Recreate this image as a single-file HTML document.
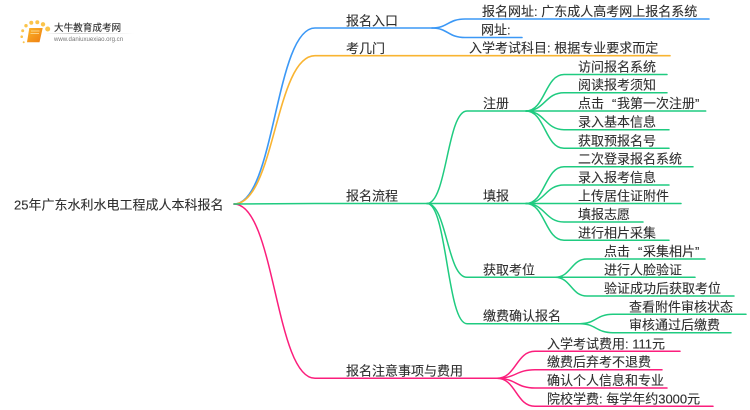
<!DOCTYPE html>
<html lang="zh">
<head>
<meta charset="utf-8">
<title>25年广东水利水电工程成人本科报名</title>
<style>
html,body{margin:0;padding:0;background:#fff;width:750px;height:410px;overflow:hidden}
svg{display:block}
text{font-family:"Liberation Sans","Noto Sans CJK SC",sans-serif;font-size:13px;fill:#2e2e2e;stroke:#2e2e2e;stroke-width:.12}
.b path,.o path,.g path,.p path{fill:none;stroke-linecap:round}
.b path{stroke:#3b98f6;stroke-width:1.6}
.o path{stroke:#f9b432;stroke-width:1.6}
.g path{stroke:#1fcb80;stroke-width:1.5}
.p path{stroke:#fb1e7c;stroke-width:1.5}
.soft{filter:blur(.25px)}
</style>
</head>
<body>
<svg width="750" height="410" viewBox="0 0 750 410" xmlns="http://www.w3.org/2000/svg">
<defs>
<linearGradient id="ln" x1="0" x2="1" y1="0" y2="0"><stop offset="0" stop-color="#ccc" stop-opacity="0"/><stop offset=".3" stop-color="#ccc"/><stop offset="1" stop-color="#ccc" stop-opacity="0"/></linearGradient>
<linearGradient id="bk" x1="0" x2="1" y1="0" y2="1"><stop offset="0" stop-color="#fbb52a"/><stop offset="1" stop-color="#ee7d10"/></linearGradient>
</defs>

<g class="soft">
<!-- logo -->
<g fill="#fbc44a">
<circle cx="47.700" cy="29" r="2.500"/><circle cx="43" cy="24.300" r="2.200"/><circle cx="37.300" cy="22.300" r="2"/>
<circle cx="31.300" cy="22.700" r="2"/><circle cx="26" cy="25.700" r="1.700"/><circle cx="22.700" cy="30.700" r="1.500"/>
<circle cx="21.700" cy="36.700" r="1.300"/><circle cx="23.700" cy="42.300" r="1"/>
</g>
<path d="M29.300 28H42.700L39.500 42.300H27z" fill="url(#bk)"/>
<path d="M31 31h8.500M30.500 33.500h8.500" stroke="#fde3a6" stroke-width=".8"/>
<rect x="45" y="33" width="89" height="1" fill="url(#ln)"/>
<text x="54" y="31" style="font-size:9.600px">大牛教育成考网</text>
<text x="54" y="41" style="font-size:6.100px;fill:#777;stroke:none">www.daniuxuexiao.org.cn</text>

<!-- connectors -->
<g class="b">
<path d="M234 204C275 204 275 28 315 28H432"/>
<path d="M432 28C448 28 448 19 465 19H709"/>
<path d="M432 28C448 28 448 37.500 465 37.500H522"/>
</g>
<g class="o">
<path d="M234 204C275 204 275 55.700 315 55.700H670"/>
</g>
<g class="p">
<path d="M234 204C275 204 275 378.300 315 378.300H497"/>
<path d="M497 378.300C516 378.300 516 351.300 535 351.300H680"/>
<path d="M497 378.300C516 378.300 516 369.700 535 369.700H662"/>
<path d="M497 378.300C516 378.300 516 388 535 388H667"/>
<path d="M497 378.300C516 378.300 516 406.300 535 406.300H713"/>
</g>
<g class="g">
<path d="M234 204C275 204 275 203.500 315 203.500H427"/>
<path d="M427 203.500C447 203.500 447 111 467 111H526"/>
<path d="M427 203.500H526"/>
<path d="M427 203.500C447 203.500 447 277.300 467 277.300H555"/>
<path d="M427 203.500C447 203.500 447 323.700 467 323.700H580"/>
<path d="M526 111C545 111 545 74.500 564 74.500H667"/>
<path d="M526 111C545 111 545 92.700 564 92.700H667"/>
<path d="M526 111H705.700"/>
<path d="M526 111C545 111 545 129.700 564 129.700H669"/>
<path d="M526 111C545 111 545 148.300 564 148.300H669"/>
<path d="M526 203.500C545 203.500 545 166.700 564 166.700H693"/>
<path d="M526 203.500C545 203.500 545 185 564 185H669"/>
<path d="M526 203.500H681"/>
<path d="M526 203.500C545 203.500 545 222 564 222H643"/>
<path d="M526 203.500C545 203.500 545 240.300 564 240.300H669"/>
<path d="M555 277.300C571 277.300 571 259 587 259H705"/>
<path d="M555 277.300H695"/>
<path d="M555 277.300C571 277.300 571 296 587 296H734"/>
<path d="M580 323.700C596 323.700 596 314.300 613 314.300H746"/>
<path d="M580 323.700C596 323.700 596 332.700 613 332.700H731"/>
</g>

<!-- labels -->
<text x="14" y="209.300">25年广东水利水电工程成人本科报名</text>
<text x="346" y="25.500">报名入口</text>
<text x="346" y="53">考几门</text>
<text x="346" y="200.500">报名流程</text>
<text x="346" y="375.500">报名注意事项与费用</text>

<text x="482" y="16">报名网址: 广东成人高考网上报名系统</text>
<text x="481" y="34.500">网址:</text>
<text x="469" y="52.500">入学考试科目: 根据专业要求而定</text>

<text x="483" y="108">注册</text>
<text x="483" y="200.500">填报</text>
<text x="483" y="274.300">获取考位</text>
<text x="483" y="320.700">缴费确认报名</text>

<text x="578" y="71.500">访问报名系统</text>
<text x="578" y="89.700">阅读报考须知</text>
<text y="108"><tspan x="578">点击</tspan><tspan x="612">“</tspan><tspan x="617">我第一次注册</tspan><tspan x="695">”</tspan></text>
<text x="578" y="126.700">录入基本信息</text>
<text x="578" y="145.300">获取预报名号</text>

<text x="578" y="163.700">二次登录报名系统</text>
<text x="578" y="182">录入报考信息</text>
<text x="578" y="200.500">上传居住证附件</text>
<text x="578" y="219">填报志愿</text>
<text x="578" y="237.300">进行相片采集</text>

<text y="256"><tspan x="604">点击</tspan><tspan x="638">“</tspan><tspan x="643">采集相片</tspan><tspan x="695">”</tspan></text>
<text x="604" y="274.300">进行人脸验证</text>
<text x="604" y="293">验证成功后获取考位</text>

<text x="629" y="311.300">查看附件审核状态</text>
<text x="629" y="329.700">审核通过后缴费</text>

<text x="547" y="348.300">入学考试费用: 111元</text>
<text x="547" y="366.700">缴费后弃考不退费</text>
<text x="547" y="385">确认个人信息和专业</text>
<text x="547" y="403.300">院校学费: 每学年约3000元</text>
</g>
</svg>
</body>
</html>
